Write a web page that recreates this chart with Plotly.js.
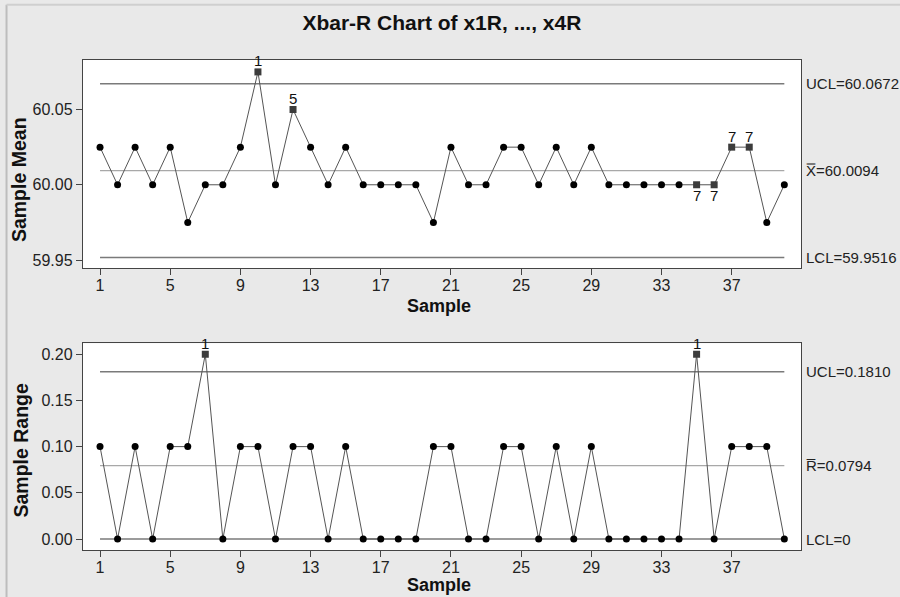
<!DOCTYPE html>
<html><head><meta charset="utf-8">
<script src="https://cdn.plot.ly/plotly-3.0.1.min.js"></script>
<style>html,body{margin:0;padding:0;background:#e9e9e9;}</style>
</head><body><div id="chart" style="width:900px;height:597px;"></div>
<script>
const samples = Array.from({length:40},(_,i)=>i+1);
const sampleMeans = [60.025,60.00,60.025,60.00,60.025,59.975,60.00,60.00,60.025,60.075,
  60.00,60.05,60.025,60.00,60.025,60.00,60.00,60.00,60.00,59.975,
  60.025,60.00,60.00,60.025,60.025,60.00,60.025,60.00,60.025,60.00,
  60.00,60.00,60.00,60.00,60.00,60.00,60.025,60.025,59.975,60.00];
const sampleRanges = [0.1,0,0.1,0,0.1,0.1,0.2,0,0.1,0.1,
  0,0.1,0.1,0,0.1,0,0,0,0,0.1,
  0.1,0,0,0.1,0.1,0,0.1,0,0.1,0,
  0,0,0,0,0.2,0,0.1,0.1,0.1,0];
// flagged points: sample number and test label
const meanFlags = [[10,"1","above"],[12,"5","above"],[35,"7","below"],[36,"7","below"],[37,"7","above"],[38,"7","above"]];
const rangeFlags = [[7,"1","above"],[35,"1","above"]];
const xbarLimits = {UCL:60.0672, CL:60.0094, LCL:59.9516};
const rLimits = {UCL:0.1810, CL:0.0794, LCL:0};
const xTicks = [1,5,9,13,17,21,25,29,33,37];

const FONT = "Liberation Sans, Arial, sans-serif";
function normal(vals, flags){
  const flagged = new Set(flags.map(f=>f[0]));
  return {x: samples.filter(s=>!flagged.has(s)), y: vals.filter((v,i)=>!flagged.has(i+1))};
}
function sq(vals, flags){
  return {x: flags.map(f=>f[0]), y: flags.map(f=>vals[f[0]-1])};
}
const traces = [];
function addSeries(vals, flags, xa, ya){
  traces.push({x:samples, y:vals, xaxis:xa, yaxis:ya, mode:'lines', line:{color:'#555', width:1}, hoverinfo:'skip'});
  const n = normal(vals, flags);
  traces.push({x:n.x, y:n.y, xaxis:xa, yaxis:ya, mode:'markers', marker:{color:'#000', size:7, symbol:'circle'}});
  const s = sq(vals, flags);
  traces.push({x:s.x, y:s.y, xaxis:xa, yaxis:ya, mode:'markers', marker:{color:'#3c3c3c', size:7, symbol:'square'}});
}
addSeries(sampleMeans, meanFlags, 'x', 'y');
addSeries(sampleRanges, rangeFlags, 'x2', 'y2');

const shapes = [];
function hline(y, xr, yr, color, w){
  shapes.push({type:'line', xref:xr, yref:yr, x0:1, x1:40, y0:y, y1:y, line:{color:color, width:w}, layer:'below'});
}
hline(xbarLimits.UCL,'x','y','#7a7a7a',1.5);
hline(xbarLimits.CL,'x','y','#a8a8a8',1.2);
hline(xbarLimits.LCL,'x','y','#7a7a7a',1.5);
hline(rLimits.UCL,'x2','y2','#7a7a7a',1.5);
hline(rLimits.CL,'x2','y2','#a8a8a8',1.2);
hline(rLimits.LCL,'x2','y2','#7a7a7a',1.5);
// outer frame lines (left and top)
shapes.push({type:'line', xref:'paper', yref:'paper', x0:-0.1065, x1:-0.1065, y0:-0.2, y1:1.113, line:{color:'#bdbdbd', width:2}});
shapes.push({type:'line', xref:'paper', yref:'paper', x0:-0.1065, x1:1.2, y0:1.113, y1:1.113, line:{color:'#cfcfcf', width:2}});

const annotations = [];
function flagAnn(flags, vals, xr, yr){
  flags.forEach(f=>{
    annotations.push({x:f[0], y:vals[f[0]-1], xref:xr, yref:yr, text:f[1], showarrow:false,
      yshift: f[2]==='above'? 11 : -11, font:{family:FONT, size:15, color:'#111'}});
  });
}
flagAnn(meanFlags, sampleMeans, 'x', 'y');
flagAnn(rangeFlags, sampleRanges, 'x2', 'y2');
function sideLabel(text, y, yr){
  annotations.push({xref:'paper', x:1, xanchor:'left', xshift:3, yref:yr, y:y, text:text, showarrow:false,
    font:{family:FONT, size:15, color:'#222'}});
}
sideLabel('UCL=' + xbarLimits.UCL.toFixed(4), xbarLimits.UCL, 'y');
sideLabel('X\u033F=' + xbarLimits.CL.toFixed(4), xbarLimits.CL, 'y');
sideLabel('LCL=' + xbarLimits.LCL.toFixed(4), xbarLimits.LCL, 'y');
sideLabel('UCL=' + rLimits.UCL.toFixed(4), rLimits.UCL, 'y2');
sideLabel('R\u0305=' + rLimits.CL.toFixed(4), rLimits.CL, 'y2');
sideLabel('LCL=' + rLimits.LCL, rLimits.LCL, 'y2');
// axis titles as annotations for exact placement
function axTitle(text, x, y, angle){
  annotations.push({xref:'paper', yref:'paper', x:x, y:y, text:'<b>'+text+'</b>', showarrow:false, textangle:angle,
    xanchor:'center', yanchor:'middle', font:{family:FONT, size: angle ? 19.5 : 18, color:'#111'}});
}
axTitle('Sample', 0.4958, 0.497, 0);
axTitle('Sample', 0.4958, -0.071, 0);
axTitle('Sample Mean', -0.0891, 0.755, -90);
axTitle('Sample Range', -0.0857, 0.204, -90);

const axX = {range:[0.03,40.95], tickmode:'array', tickvals:xTicks, ticks:'outside', ticklen:6, tickcolor:'#444',
  ticklabelstandoff:-3,
  showgrid:false, zeroline:false, showline:true, linecolor:'#444', linewidth:1.2, mirror:true,
  tickfont:{family:FONT, size:16, color:'#222'}};
const axY = {ticks:'outside', ticklen:6, tickcolor:'#444', showgrid:false, zeroline:false, showline:true,
  linecolor:'#444', linewidth:1.2, mirror:true, tickfont:{family:FONT, size:16, color:'#222'}};
const layout = {
  width:900, height:597,
  paper_bgcolor:'#e9e9e9', plot_bgcolor:'#ffffff',
  margin:{l:83, r:99, t:60, b:47},
  showlegend:false,
  title:{text:'<b>Xbar-R Chart of x1R, ..., x4R</b>', x:0.491, xanchor:'center', y:0.962, yanchor:'middle',
    font:{family:FONT, size:21, color:'#111'}},
  xaxis: Object.assign({}, axX, {anchor:'y'}),
  xaxis2: Object.assign({}, axX, {anchor:'y2'}),
  yaxis: Object.assign({}, axY, {domain:[0.5755,1], range:[59.9447,60.0829], tickvals:[59.95,60.00,60.05], ticktext:['59.95','60.00','60.05']}),
  yaxis2: Object.assign({}, axY, {domain:[0,0.422], range:[-0.0119,0.2119], tickvals:[0,0.05,0.1,0.15,0.2], ticktext:['0.00','0.05','0.10','0.15','0.20']}),
  shapes: shapes,
  annotations: annotations
};
Plotly.newPlot('chart', traces, layout, {displayModeBar:false, staticPlot:true});
</script></body></html>
